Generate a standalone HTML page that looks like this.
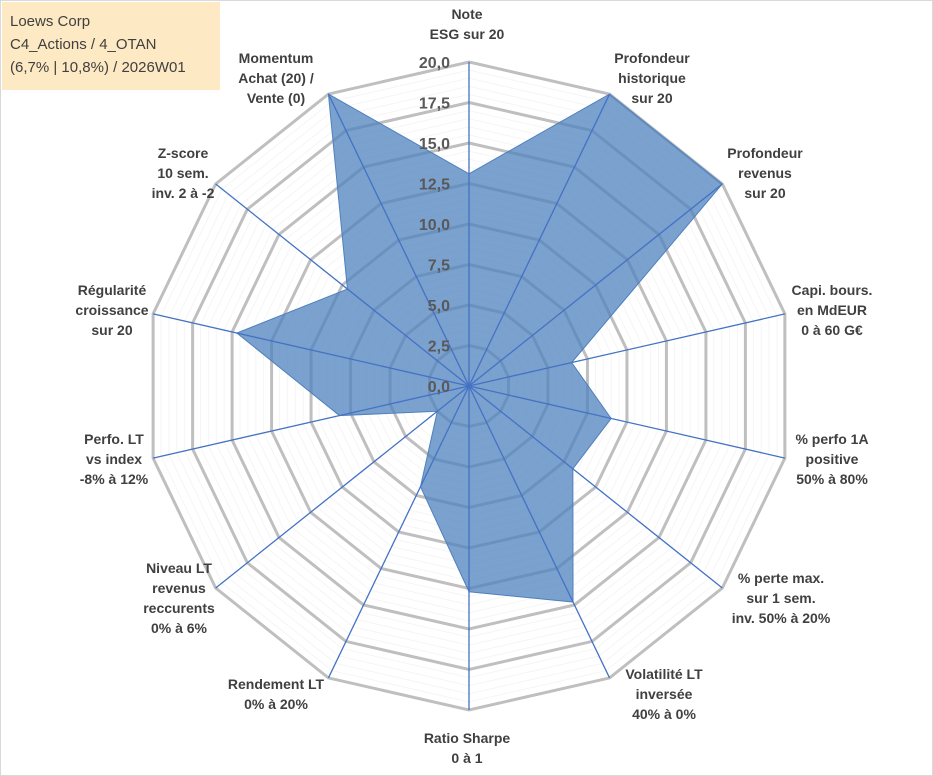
<!DOCTYPE html>
<html><head><meta charset="utf-8"><style>
body{margin:0;background:#fff;}
#wrap{position:relative;width:933px;height:776px;overflow:hidden;background:#fff;font-family:"Liberation Sans",sans-serif;}
#title{position:absolute;left:2px;top:2px;width:218px;height:88px;background:#fde9c3;color:#404040;font-size:15px;line-height:23px;padding:8px 0 0 8px;box-sizing:border-box;}
svg text{font-family:"Liberation Sans",sans-serif;}
</style></head><body>
<div id="wrap">
<svg id="chart" width="933" height="776" style="position:absolute;left:0;top:0">
<rect x="0.5" y="0.5" width="932" height="775" fill="none" stroke="#d9d9d9"/>
</svg>
<div id="title">Loews Corp<br>C4_Actions / 4_OTAN<br>(6,7% | 10,8%) / 2026W01</div>
</div>
<script>
const categories=[["Note","ESG sur 20"],["Profondeur","historique","sur 20"],["Profondeur","revenus","sur 20"],["Capi. bours.","en MdEUR","0 à 60 G€"],["% perfo 1A","positive","50% à 80%"],["% perte max.","sur 1 sem.","inv. 50% à 20%"],["Volatilité LT","inversée","40% à 0%"],["Ratio Sharpe","0 à 1"],["Rendement LT","0% à 20%"],["Niveau LT","revenus","reccurents","0% à 6%"],["Perfo. LT","vs index","-8% à 12%"],["Régularité","croissance","sur 20"],["Z-score","10 sem.","inv. 2 à -2"],["Momentum","Achat (20) /","Vente (0)"]];
const values=[13.1,20,20,6.5,9.0,8.2,14.8,12.7,6.9,2.5,8.2,14.7,9.6,20];
const tickLabels=["0,0","2,5","5,0","7,5","10,0","12,5","15,0","17,5","20,0"];
const maxVal=20;
const labelPos=[[467,19],[652,63],[765,158],[832,295],[832,444],[781,583],[664,679],[467,743],[276,689],[179,573],[114,444],[112,295],[183,158],[276,63]];
const NS="http://www.w3.org/2000/svg";
const svg=document.getElementById('chart');
const cx=469,cy=386,R=324,N=categories.length;
function ang(i){return i*2*Math.PI/N;}
function pt(i,v){const r=v/maxVal*R;return [cx+r*Math.sin(ang(i)),cy-r*Math.cos(ang(i))];}
function mk(t,a){const e=document.createElementNS(NS,t);for(const k in a)e.setAttribute(k,a[k]);svg.appendChild(e);return e;}
for(let v=0.5;v<maxVal;v+=0.5){if(Math.abs(v/2.5-Math.round(v/2.5))<1e-6)continue;
 const p=mk('polygon',{points:categories.map((c,i)=>pt(i,v).join(',')).join(' '),fill:'none',stroke:'#f5f5f5','stroke-width':1});
 
 }
for(let k=1;k<tickLabels.length;k++){const v=k*2.5;
 const p=mk('polygon',{points:categories.map((c,i)=>pt(i,v).join(',')).join(' '),fill:'none',stroke:'#bfbfbf','stroke-width':3});
 
 }
const poly=mk('polygon',{points:values.map((v,i)=>pt(i,v).join(',')).join(' '),fill:'#4f81bd','fill-opacity':0.75,stroke:'#4f81bd','stroke-width':1});


categories.forEach((c,i)=>{const e=pt(i,maxVal);
 const l=mk('line',{x1:cx,y1:cy,x2:e[0],y2:e[1],stroke:'#4472c4','stroke-width':1.3});
 
 });
tickLabels.forEach((t,k)=>{const y=cy-k*2.5/maxVal*R;
 const tx=mk('text',{x:cx-19,y:y+6,'text-anchor':'end','font-size':16,'font-weight':'bold',fill:'#595959'});
 tx.textContent=t;
 
 });
categories.forEach((c,i)=>{const x=labelPos[i][0],y0=labelPos[i][1];
 const tx=mk('text',{x:x,y:y0,'text-anchor':'middle','font-size':14,'font-weight':'bold',fill:'#404040'});
 
 
 c.forEach((line,j)=>{const ts=document.createElementNS(NS,'tspan');ts.setAttribute('x',x);ts.setAttribute('y',y0+j*20);ts.textContent=line;tx.appendChild(ts);});
});
</script>
</body></html>
